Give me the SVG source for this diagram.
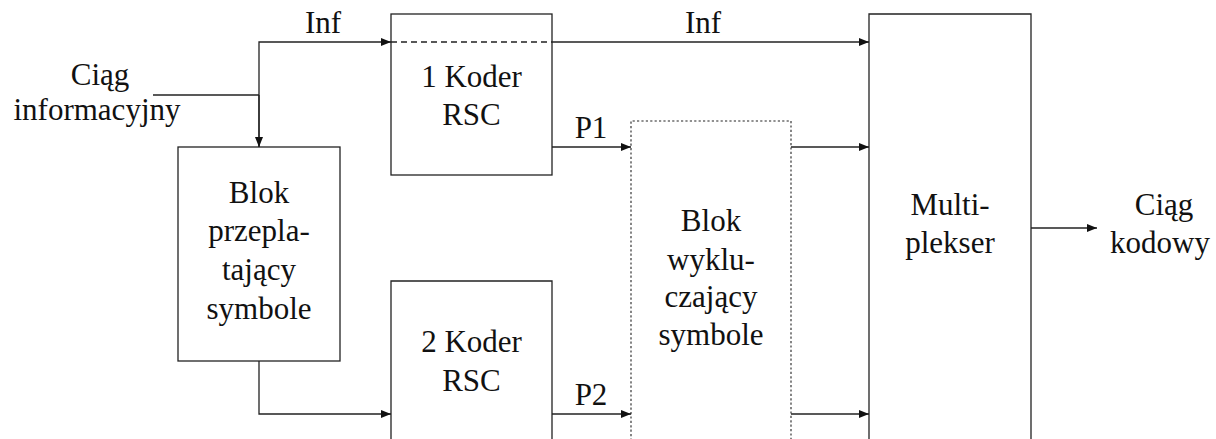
<svg xmlns="http://www.w3.org/2000/svg" width="1216" height="439" viewBox="0 0 1216 439">
  <style>
    .box { fill: none; stroke: #222; stroke-width: 1.3; }
    .dotted { fill: none; stroke: #222; stroke-width: 1.1; stroke-dasharray: 2.2 2.2; }
    .wire { fill: none; stroke: #222; stroke-width: 1.3; }
    .dash { fill: none; stroke: #222; stroke-width: 1.3; stroke-dasharray: 6 4; }
    .t { font-size: 31px; fill: #111; text-anchor: middle; }
  </style>
  <defs>
    <marker id="arrow" markerWidth="11" markerHeight="8" refX="10" refY="4" orient="auto" markerUnits="userSpaceOnUse">
      <path d="M0,0 L10,4 L0,8 Z" fill="#111"/>
    </marker>
  </defs>

  <rect width="1216" height="439" fill="#fff"/>

  <!-- free labels -->
  <g id="input-label">
    <text class="t" font-family="Times New Roman" x="100" y="85">Ciąg</text>
    <text class="t" font-family="Times New Roman" x="97" y="120">informacyjny</text>
  </g>
  <g id="output-label">
    <text class="t" font-family="Times New Roman" x="1164" y="215">Ciąg</text>
    <text class="t" font-family="Times New Roman" x="1160" y="253">kodowy</text>
  </g>

  <!-- blocks -->
  <g id="koder1">
    <rect class="box" x="391" y="14" width="161" height="161"/>
    <line class="dash" x1="391" y1="42" x2="552" y2="42"/>
    <text class="t" font-family="Times New Roman" x="471.5" y="87">1 Koder</text>
    <text class="t" font-family="Times New Roman" x="471.5" y="125">RSC</text>
  </g>
  <g id="przeplot">
    <rect class="box" x="178" y="147" width="162" height="214"/>
    <text class="t" font-family="Times New Roman" x="259" y="203">Blok</text>
    <text class="t" font-family="Times New Roman" x="259" y="241">przepla-</text>
    <text class="t" font-family="Times New Roman" x="259" y="280">tający</text>
    <text class="t" font-family="Times New Roman" x="259" y="319">symbole</text>
  </g>
  <g id="koder2">
    <path class="box" d="M391,445 V281 H552 V445"/>
    <text class="t" font-family="Times New Roman" x="471.5" y="352">2 Koder</text>
    <text class="t" font-family="Times New Roman" x="471.5" y="391">RSC</text>
  </g>
  <g id="wykluczanie">
    <path class="dotted" d="M631,445 V121 H791 V445"/>
    <text class="t" font-family="Times New Roman" x="711" y="231">Blok</text>
    <text class="t" font-family="Times New Roman" x="711" y="270">wyklu-</text>
    <text class="t" font-family="Times New Roman" x="711" y="307">czający</text>
    <text class="t" font-family="Times New Roman" x="711" y="345">symbole</text>
  </g>
  <g id="multiplekser">
    <path class="box" d="M869,445 V14 H1031 V445"/>
    <text class="t" font-family="Times New Roman" x="950" y="215">Multi-</text>
    <text class="t" font-family="Times New Roman" x="950" y="253">plekser</text>
  </g>

  <!-- connectors -->
  <g id="connectors">
    <line class="wire" x1="153" y1="95" x2="259" y2="95"/>
    <path class="wire" d="M259,147 V42 H391" marker-end="url(#arrow)"/>
    <path class="wire" d="M259,95 V147" marker-end="url(#arrow)"/>
    <text class="t" font-family="Times New Roman" x="323" y="33">Inf</text>
    <line class="wire" x1="552" y1="42" x2="869" y2="42" marker-end="url(#arrow)"/>
    <text class="t" font-family="Times New Roman" x="703" y="33">Inf</text>
    <line class="wire" x1="552" y1="147" x2="631" y2="147" marker-end="url(#arrow)"/>
    <text class="t" font-family="Times New Roman" x="591" y="138">P1</text>
    <path class="wire" d="M259,361 V414 H391" marker-end="url(#arrow)"/>
    <line class="wire" x1="552" y1="414" x2="631" y2="414" marker-end="url(#arrow)"/>
    <text class="t" font-family="Times New Roman" x="591" y="405">P2</text>
    <line class="wire" x1="791" y1="147" x2="869" y2="147" marker-end="url(#arrow)"/>
    <line class="wire" x1="791" y1="414" x2="869" y2="414" marker-end="url(#arrow)"/>
    <line class="wire" x1="1031" y1="228" x2="1097" y2="228" marker-end="url(#arrow)"/>
  </g>
</svg>
